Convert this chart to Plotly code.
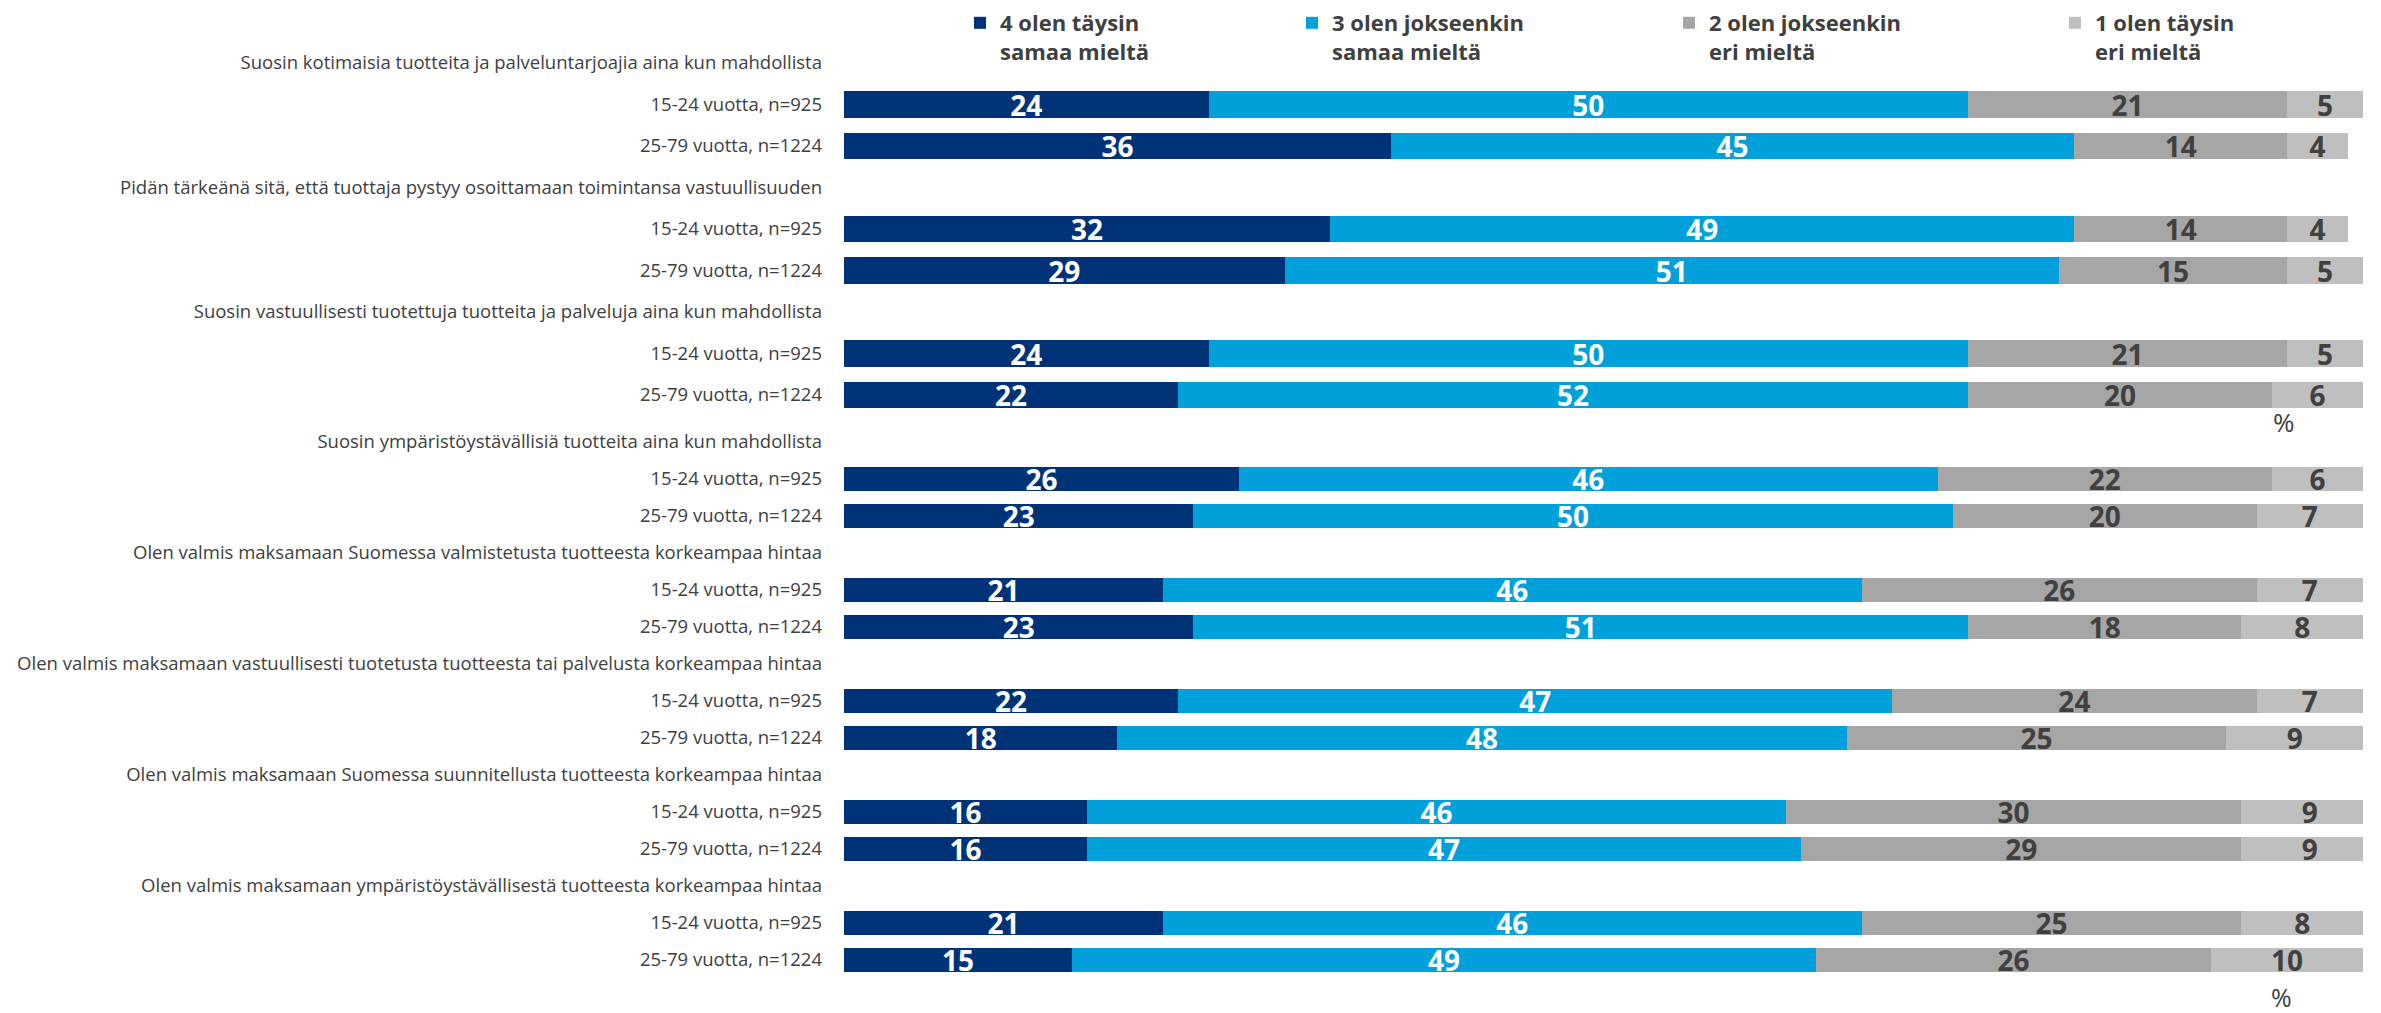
import plotly.graph_objects as go
from plotly.subplots import make_subplots

# ---------------- data ----------------
series_names = [
    "4 olen täysin<br>samaa mieltä",
    "3 olen jokseenkin<br>samaa mieltä",
    "2 olen jokseenkin<br>eri mieltä",
    "1 olen täysin<br>eri mieltä",
]
questions_top = [
    "Suosin kotimaisia tuotteita ja palveluntarjoajia aina kun mahdollista",
    "Pidän tärkeänä sitä, että tuottaja pystyy osoittamaan toimintansa vastuullisuuden",
    "Suosin vastuullisesti tuotettuja tuotteita ja palveluja aina kun mahdollista",
]
questions_bottom = [
    "Suosin ympäristöystävällisiä tuotteita aina kun mahdollista",
    "Olen valmis maksamaan Suomessa valmistetusta tuotteesta korkeampaa hintaa",
    "Olen valmis maksamaan vastuullisesti tuotetusta tuotteesta tai palvelusta korkeampaa hintaa",
    "Olen valmis maksamaan Suomessa suunnitellusta tuotteesta korkeampaa hintaa",
    "Olen valmis maksamaan ympäristöystävällisestä tuotteesta korkeampaa hintaa",
]
age_groups = ["15-24 vuotta, n=925", "25-79 vuotta, n=1224"]

# values in order: question 1 (15-24, 25-79), question 2 (15-24, 25-79), ...
s4 = [24, 36, 32, 29, 24, 22, 26, 23, 21, 23, 22, 18, 16, 16, 21, 15]
s3 = [50, 45, 49, 51, 50, 52, 46, 50, 46, 51, 47, 48, 46, 47, 46, 49]
s2 = [21, 14, 14, 15, 21, 20, 22, 20, 26, 18, 24, 25, 30, 29, 25, 26]
s1 = [5, 4, 4, 5, 5, 6, 6, 7, 7, 8, 7, 9, 9, 9, 8, 10]
series_values = [s4, s3, s2, s1]

colors = ["#003278", "#00A0DA", "#A6A6A6", "#BFBFBF"]
text_colors = ["#FFFFFF", "#FFFFFF", "#404040", "#404040"]
legend_ids = ["legend", "legend2", "legend3", "legend4"]

FONT = "'Open Sans', Calibri, sans-serif"
GREY = "#404040"

W, H = 2381, 1013


def build_rows(questions, offset):
    """Return tick labels, bar row indices and value slice indices."""
    labels, bar_rows, data_idx = [], [], []
    row = 0
    for qi, q in enumerate(questions):
        labels.append(q)
        row += 1
        for gi, g in enumerate(age_groups):
            labels.append(g)
            bar_rows.append(row)
            data_idx.append(2 * (offset + qi) + gi)
            row += 1
    return labels, bar_rows, data_idx


fig = make_subplots(rows=2, cols=1)

panels = [
    (questions_top, 0, 1),
    (questions_bottom, len(questions_top), 2),
]

for questions, offset, r in panels:
    labels, bar_rows, data_idx = build_rows(questions, offset)
    for si, vals in enumerate(series_values):
        v = [vals[i] for i in data_idx]
        fig.add_trace(
            go.Bar(
                x=v,
                y=bar_rows,
                orientation="h",
                name=series_names[si],
                marker=dict(color=colors[si], line=dict(width=0)),
                width=0.63,
                text=[str(x) for x in v],
                textposition="inside",
                insidetextanchor="middle",
                textangle=0,
                constraintext="none",
                textfont=dict(family=FONT, size=28, color=text_colors[si], weight="bold"),
                showlegend=(r == 1),
                legend=legend_ids[si],
                hoverinfo="skip",
            ),
            row=r,
            col=1,
        )
    n = len(labels)
    fig.update_yaxes(
        tickmode="array",
        tickvals=list(range(n)),
        ticktext=labels,
        range=[n - 0.5, -0.5],
        showgrid=False,
        zeroline=False,
        showline=False,
        ticks="",
        ticklabelstandoff=21,
        automargin=False,
        tickfont=dict(family=FONT, size=18.5, color=GREY),
        row=r,
        col=1,
    )

fig.update_xaxes(range=[0, 100], visible=False, showgrid=False, zeroline=False,
                 automargin=False)

# row geometry (pixel positions turned into paper domains)
top_first, top_step, top_n = 63, 41.5, 9
bot_first, bot_step, bot_n = 442, 37.0, 15


def dom(first, step, n):
    top_px = first - step / 2
    bot_px = first + step * (n - 1) + step / 2
    return [1 - bot_px / H, 1 - top_px / H]


fig.update_layout(
    yaxis=dict(domain=dom(top_first, top_step, top_n)),
    yaxis2=dict(domain=dom(bot_first, bot_step, bot_n)),
    xaxis=dict(domain=[0, 1]),
    xaxis2=dict(domain=[0, 1]),
)

plot_l, plot_r = 844, 2363
legend_left_px = [960, 1292, 1669, 2055]
leg_common = dict(
    y=1 - 2 / H,
    yanchor="top",
    xanchor="left",
    valign="top",
    bgcolor="rgba(0,0,0,0)",
    font=dict(family=FONT, size=22, color=GREY, weight="bold"),
    itemclick=False,
    itemdoubleclick=False,
)
legend_layout = {}
for lid, lx in zip(legend_ids, legend_left_px):
    legend_layout[lid] = dict(x=(lx - plot_l) / (plot_r - plot_l), **leg_common)

fig.update_layout(**legend_layout)

fig.update_layout(
    barmode="stack",
    width=W,
    height=H,
    margin=dict(l=plot_l, r=W - plot_r, t=0, b=0, autoexpand=False),
    paper_bgcolor="white",
    plot_bgcolor="white",
    font=dict(family=FONT, color=GREY),
    annotations=[
        dict(text="%", x=(2284 - plot_l) / (plot_r - plot_l), y=1 - 422 / H,
             xref="paper", yref="paper", showarrow=False,
             xanchor="center", yanchor="middle",
             font=dict(family=FONT, size=26, color=GREY)),
        dict(text="%", x=(2281 - plot_l) / (plot_r - plot_l), y=-3 / H,
             xref="paper", yref="paper", showarrow=False,
             xanchor="center", yanchor="bottom",
             font=dict(family=FONT, size=25, color=GREY)),
    ],
)

fig.write_html("out.html")
